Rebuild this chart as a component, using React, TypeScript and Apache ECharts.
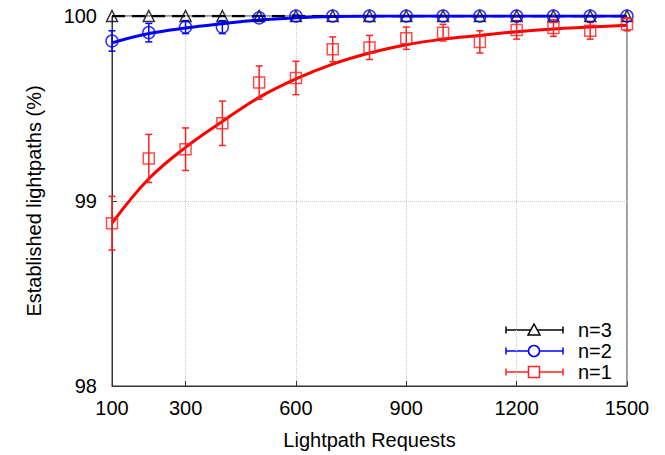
import React, { useEffect, useRef } from "react";
import * as echarts from "echarts";

const requests = [100, 200, 300, 400, 500, 600, 700, 800, 900, 1000, 1100, 1200, 1300, 1400, 1500];
const xTickValues = [100, 300, 600, 900, 1200, 1500];
const yTickValues = [98, 99, 100];

const n1Mean = [98.88, 99.23, 99.28, 99.42, 99.64, 99.665, 99.82, 99.83, 99.88, 99.91, 99.86, 99.925, 99.935, 99.92, 99.955];
const n1Err = [0.145, 0.13, 0.115, 0.12, 0.09, 0.09, 0.067, 0.065, 0.06, 0.045, 0.06, 0.05, 0.045, 0.045, 0.035];
const n1Fit = [98.88, 99.12, 99.29, 99.43, 99.56, 99.66, 99.74, 99.8, 99.845, 99.875, 99.895, 99.915, 99.93, 99.94, 99.95];

const n2Mean = [99.865, 99.91, 99.94, 99.94, 99.99, 100, 100, 100, 100, 100, 100, 100, 100, 100, 100];
const n2Err = [0.055, 0.05, 0.035, 0.035, 0.01, 0.005, 0, 0, 0, 0, 0, 0, 0, 0, 0];
const n2Fit = [99.855, 99.905, 99.935, 99.958, 99.978, 99.99, 99.997, 100, 100, 100, 100, 100, 100, 100, 100];

const n3Mean = [100, 100, 100, 100, 100, 100, 100, 100, 100, 100, 100, 100, 100, 100, 100];
const n3Fit = [100, 100, 100, 100, 100, 100, 100, 100, 100, 100, 100, 100, 100, 100, 100];

const FONT = "'Liberation Sans', Arial, Helvetica, sans-serif";

const pairs = (ys: number[]) => requests.map((x, i) => [x, ys[i]]);
const triples = (ys: number[], es: number[]) => requests.map((x, i) => [x, ys[i], es[i]]);

function errorBars(name: string, color: string, mean: number[], err: number[]) {
  return {
    name,
    type: "custom",
    data: triples(mean, err),
    encode: { x: 0, y: 1 },
    z: 3,
    renderItem: (params: any, api: any) => {
      const x = api.value(0);
      const y = api.value(1);
      const e = api.value(2);
      if (!e) return null;
      const top = api.coord([x, y + e]);
      const bot = api.coord([x, y - e]);
      const cap = 3.5;
      const style = { stroke: color, lineWidth: 1.5 };
      return {
        type: "group",
        children: [
          { type: "line", shape: { x1: top[0], y1: top[1], x2: bot[0], y2: bot[1] }, style },
          { type: "line", shape: { x1: top[0] - cap, y1: top[1], x2: top[0] + cap, y2: top[1] }, style },
          { type: "line", shape: { x1: bot[0] - cap, y1: bot[1], x2: bot[0] + cap, y2: bot[1] }, style },
        ],
      };
    },
  };
}

function markers(name: string, color: string, symbol: string, size: number, mean: number[]) {
  return {
    name,
    type: "scatter",
    data: pairs(mean),
    symbol,
    symbolSize: size,
    z: 4,
    itemStyle: { color: "rgba(0,0,0,0)", borderColor: color, borderWidth: 1.5 },
  };
}

function fitLine(name: string, color: string, ys: number[], dashed: boolean) {
  return {
    name,
    type: "line",
    data: pairs(ys),
    smooth: 0.4,
    showSymbol: false,
    z: 2,
    lineStyle: { color, width: dashed ? 2.5 : 3, type: dashed ? [13, 7] : "solid" },
  };
}

function legendRow(y: number, color: string, symbol: string, label: string) {
  const x1 = 506;
  const x2 = 563;
  const xm = 534;
  const st = { stroke: color, lineWidth: 1.5 };
  const children: any[] = [
    { type: "line", shape: { x1, y1: y, x2, y2: y }, style: st },
    { type: "line", shape: { x1, y1: y - 3.5, x2: x1, y2: y + 3.5 }, style: st },
    { type: "line", shape: { x1: x2, y1: y - 3.5, x2, y2: y + 3.5 }, style: st },
  ];
  if (symbol === "circle") {
    children.push({ type: "circle", shape: { cx: xm, cy: y, r: 5.5 }, style: { fill: "#fff", stroke: color, lineWidth: 1.5 } });
  } else if (symbol === "rect") {
    children.push({ type: "rect", shape: { x: xm - 5.5, y: y - 5.5, width: 11, height: 11 }, style: { fill: "#fff", stroke: color, lineWidth: 1.5 } });
  } else {
    children.push({ type: "polygon", shape: { points: [[xm, y - 6], [xm - 6, y + 5], [xm + 6, y + 5]] }, style: { fill: "#fff", stroke: color, lineWidth: 1.5 } });
  }
  children.push({
    type: "text",
    x: 578,
    y,
    style: { text: label, fill: "#000", font: `20px ${FONT}`, textVerticalAlign: "middle", verticalAlign: "middle" },
  });
  return { type: "group", children };
}

export default function App() {
  const ref = useRef<HTMLDivElement>(null);
  useEffect(() => {
    if (!ref.current) return;
    const chart = echarts.init(ref.current, null, { renderer: "svg" });
    chart.setOption({
      animation: false,
      backgroundColor: "#fff",
      textStyle: { fontFamily: FONT },
      grid: { left: 112, right: 38, top: 16, bottom: 68, show: true, borderColor: "#333", borderWidth: 1, backgroundColor: "transparent" },
      xAxis: {
        type: "value",
        min: 100,
        max: 1500,
        name: "Lightpath Requests",
        nameLocation: "middle",
        nameGap: 44,
        nameTextStyle: { fontSize: 20, color: "#000", fontFamily: FONT },
        axisLine: { show: true, lineStyle: { color: "#333", width: 1 } },
        axisTick: { show: true, inside: true, length: 5, customValues: xTickValues, lineStyle: { color: "#333" } },
        axisLabel: { customValues: xTickValues, fontSize: 20, color: "#000", margin: 12, fontFamily: FONT, formatter: (v: number) => String(v) },
        splitLine: { show: true, lineStyle: { color: "#c8c8c8", type: "dotted", width: 1 } },
      },
      yAxis: {
        type: "value",
        min: 98,
        max: 100,
        interval: 1,
        name: "Established lightpaths (%)",
        nameLocation: "middle",
        nameGap: 68,
        nameTextStyle: { fontSize: 20, color: "#000", fontFamily: FONT },
        axisLine: { show: true, lineStyle: { color: "#333", width: 1 } },
        axisTick: { show: true, inside: true, length: 5, lineStyle: { color: "#333" } },
        axisLabel: { fontSize: 20, color: "#000", margin: 15, fontFamily: FONT, customValues: yTickValues, formatter: (v: number) => String(v) },
        splitLine: { show: true, lineStyle: { color: "#c8c8c8", type: "dotted", width: 1 } },
      },
      series: [
        fitLine("n=3 fit", "#000000", n3Fit, true),
        markers("n=3", "#000000", "triangle", 11, n3Mean),
        fitLine("n=2 fit", "#0000ff", n2Fit, false),
        errorBars("n=2 err", "#0000ff", n2Mean, n2Err),
        markers("n=2", "#0000ff", "circle", 12, n2Mean),
        fitLine("n=1 fit", "#ff0000", n1Fit, false),
        errorBars("n=1 err", "#ff2020", n1Mean, n1Err),
        markers("n=1", "#ff2020", "rect", 11, n1Mean),
      ],
      graphic: [
        legendRow(330, "#000000", "triangle", "n=3"),
        legendRow(351, "#0000ff", "circle", "n=2"),
        legendRow(372, "#ff2020", "rect", "n=1"),
      ],
    });
    return () => chart.dispose();
  }, []);
  return <div ref={ref} style={{ width: 665, height: 455, position: "absolute", left: 0, top: 0 }} />;
}
